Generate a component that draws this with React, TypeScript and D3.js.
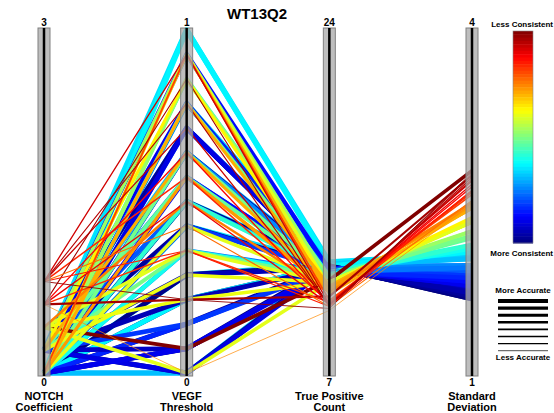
import React, { useEffect, useRef } from 'react';
import * as d3 from 'd3';

// axis names and their ranges
const dimNames = ['NOTCH\nCoefficient', 'VEGF\nThreshold', 'True Positive\nCount', 'Standard\nDeviation'];
const dimMin = [0, 0, 7, 1];
const dimMax = [3, 1, 24, 4];

// one entry per parameter set
const notch = [0.2, 0, 0, 0.8, 0.2, 0, 0.6, 0, 0.2, 0, 0.2, 0, 0.8, 0, 0.2, 0, 0.2, 0.6, 0, 0.2, 0, 0, 0.2, 0, 0.8, 0, 0.2, 0.6, 0, 0.2, 0, 0.8, 0, 0, 0.2, 0.8, 0.4, 0, 0.2, 0, 0.6, 0, 0.4, 0.2, 0, 0.2, 0.4, 0, 0.2, 0, 0, 0.4, 0.6, 0.2, 0, 0, 0.2, 0, 0, 0.2, 0, 0, 0.8, 0.4, 0, 0.8, 0.6, 0, 0, 0, 0.2, 0, 0.2, 0, 0.2];
const vegf = [1, 1, 0.929, 0.929, 0.929, 0.929, 0.857, 0.857, 0.857, 0.786, 0.786, 0.786, 0.786, 0.714, 0.714, 0.714, 0.714, 0.643, 0.643, 0.643, 0.643, 0.571, 0.571, 0.571, 0.571, 0.5, 0.5, 0.5, 0.5, 0.429, 0.429, 0.429, 0.429, 0.357, 0.357, 0.357, 0.357, 0.286, 0.286, 0.286, 0.214, 0.214, 0.214, 0.214, 0.143, 0.143, 0.071, 0.071, 0.071, 0.071, 0, 0, 0, 0, 0.857, 0.786, 0.643, 0.571, 0.357, 0.286, 0.143, 0.929, 0.714, 0.5, 0.214, 0.214, 0.357, 0.429, 0.643, 0.5, 0.929, 0.071, 0, 0.786, 0.571];
const tpCount = [12.5, 12.4, 11.3, 10.4, 11.6, 10.9, 10.3, 11.7, 11.3, 11.3, 12.1, 11.6, 10.3, 12.2, 12.2, 12.2, 12.3, 10.4, 11.7, 11.3, 12.1, 11.2, 12.1, 11.1, 10.5, 12.0, 12.1, 10.4, 12.4, 12.2, 11.5, 10.3, 12.4, 11.9, 11.7, 10.3, 11.5, 12.3, 11.5, 12.4, 10.8, 12.3, 11.5, 12.2, 12.2, 12.1, 11.6, 12.3, 12.2, 12.1, 12.4, 11.5, 10.1, 12.2, 11.8, 12.0, 12.3, 12.1, 12.0, 12.2, 12.3, 10.6, 10.4, 11.0, 12.3, 10.2, 10.5, 12.1, 12.2, 12.3, 12.1, 12.2, 12.3, 12.4, 11.8];
const stdDev = [2.04, 2.06, 2.32, 2.68, 2.24, 2.44, 2.73, 2.24, 2.36, 2.44, 1.77, 2.20, 2.71, 1.89, 1.68, 1.76, 1.94, 2.63, 2.20, 2.44, 1.94, 2.46, 1.92, 2.46, 2.59, 2.12, 1.89, 2.65, 2.04, 1.68, 2.32, 2.51, 2.04, 2.09, 2.20, 2.60, 2.32, 1.66, 2.33, 2.04, 2.73, 1.65, 2.33, 1.71, 1.83, 1.85, 2.77, 1.65, 1.73, 1.77, 2.00, 2.32, 2.48, 1.76, 2.12, 1.83, 2.00, 1.80, 1.92, 1.71, 1.68, 2.56, 2.69, 2.49, 2.06, 2.75, 2.58, 1.85, 1.70, 1.66, 1.80, 1.78, 1.67, 2.02, 2.18];

const legendWidths = [4, 3.4, 2.9, 2.4, 1.9, 1.5, 1.1, 0.7];

// matlab style jet colormap
const jet = (t: number) => {
  const c = (v: number) => Math.round(255 * Math.max(0, Math.min(1, v)));
  return `rgb(${c(Math.min(4 * t - 1.5, -4 * t + 4.5))},${c(Math.min(4 * t - 0.5, -4 * t + 3.5))},${c(Math.min(4 * t + 0.5, -4 * t + 2.5))})`;
};

const font = '"Liberation Sans", Arial, sans-serif';

const ParallelChart = () => {
  const svgRef = useRef<SVGSVGElement>(null);

  useEffect(() => {
    const svg = d3.select(svgRef.current);
    svg.selectAll('*').remove();

    const rows = notch.map((n, i) => [n, vegf[i], tpCount[i], stdDev[i]]);

    const x = d3.scalePoint<number>().domain(d3.range(4)).range([44, 472]);
    const ys = dimMin.map((m, i) => d3.scaleLinear().domain([m, dimMax[i]]).range([373, 30]));

    const sdExt = d3.extent(stdDev) as [number, number];
    const color = (v: number) => jet((v - sdExt[0]) / (sdExt[1] - sdExt[0]));
    const tpExt = d3.extent(tpCount) as [number, number];
    const width = d3.scaleLinear().domain(tpExt).range([0.7, 5.5]);

    const line = d3.line<number>().x((_, i) => x(i)!).y((v, i) => ys[i](v));

    svg.append('text')
      .attr('x', 257).attr('y', 19)
      .attr('text-anchor', 'middle')
      .style('font', `bold 15px ${font}`)
      .text('WT13Q2');

    // lines, thick ones first so thin ones sit on top
    const order = d3.range(rows.length).sort((a, b) => tpCount[b] - tpCount[a]);
    svg.append('g')
      .selectAll('path')
      .data(order)
      .enter()
      .append('path')
      .attr('d', i => line(rows[i]))
      .attr('fill', 'none')
      .attr('stroke', i => color(stdDev[i]))
      .attr('stroke-width', i => width(tpCount[i]))
      .attr('stroke-linejoin', 'round');

    // axes
    const ax = svg.append('g').selectAll('g').data(d3.range(4)).enter().append('g')
      .attr('transform', i => `translate(${x(i)},0)`);

    ax.append('rect')
      .attr('x', -6).attr('y', 28).attr('width', 12).attr('height', 348)
      .attr('fill', '#a8a8a8').attr('fill-opacity', 0.75)
      .attr('stroke', '#808080').attr('stroke-width', 1);

    ax.append('line')
      .attr('y1', 28).attr('y2', 376)
      .attr('stroke', '#000').attr('stroke-width', 2.5);

    ax.append('text')
      .attr('y', 26).attr('text-anchor', 'middle')
      .style('font', `bold 10px ${font}`)
      .text(i => dimMax[i]);

    ax.append('text')
      .attr('y', 386).attr('text-anchor', 'middle')
      .style('font', `bold 10px ${font}`)
      .text(i => dimMin[i]);

    ax.each(function (i) {
      dimNames[i].split('\n').forEach((s, k) => {
        d3.select(this).append('text')
          .attr('y', 399.5 + k * 11.5).attr('text-anchor', 'middle')
          .style('font', `bold 11px ${font}`)
          .text(s);
      });
    });

    // colour legend
    const lg = svg.append('g');
    const barTop = 31, barBot = 243, n = 64;
    const step = (barBot - barTop) / n;
    lg.selectAll('rect.c')
      .data(d3.range(n))
      .enter()
      .append('rect')
      .attr('x', 513).attr('y', k => barTop + k * step)
      .attr('width', 20).attr('height', step + 0.5)
      .attr('fill', k => jet(1 - (k + 0.5) / n));
    lg.append('rect')
      .attr('x', 513).attr('y', barTop).attr('width', 20).attr('height', barBot - barTop)
      .attr('fill', 'none').attr('stroke', '#888').attr('stroke-width', 0.6);

    const legText = (t: string, y: number, anchor = 'middle', lx = 523) =>
      lg.append('text')
        .attr('x', lx).attr('y', y).attr('text-anchor', anchor)
        .style('font', `bold 8px ${font}`)
        .text(t);
    legText('Less Consistent', 27, 'end', 553);
    legText('More Consistent', 256, 'end', 553);
    legText('More Accurate', 293);
    legText('Less Accurate', 360);

    lg.selectAll('line')
      .data(legendWidths)
      .enter()
      .append('line')
      .attr('x1', 498).attr('x2', 548)
      .attr('y1', (_, k) => 301 + k * 7.1).attr('y2', (_, k) => 301 + k * 7.1)
      .attr('stroke', '#000')
      .attr('stroke-width', w => w);
  }, []);

  return <svg ref={svgRef} width={554} height={413} style={{ position: 'absolute', left: 0, top: 0, background: '#fff' }} />;
};

export default function App() {
  return <ParallelChart />;
}
